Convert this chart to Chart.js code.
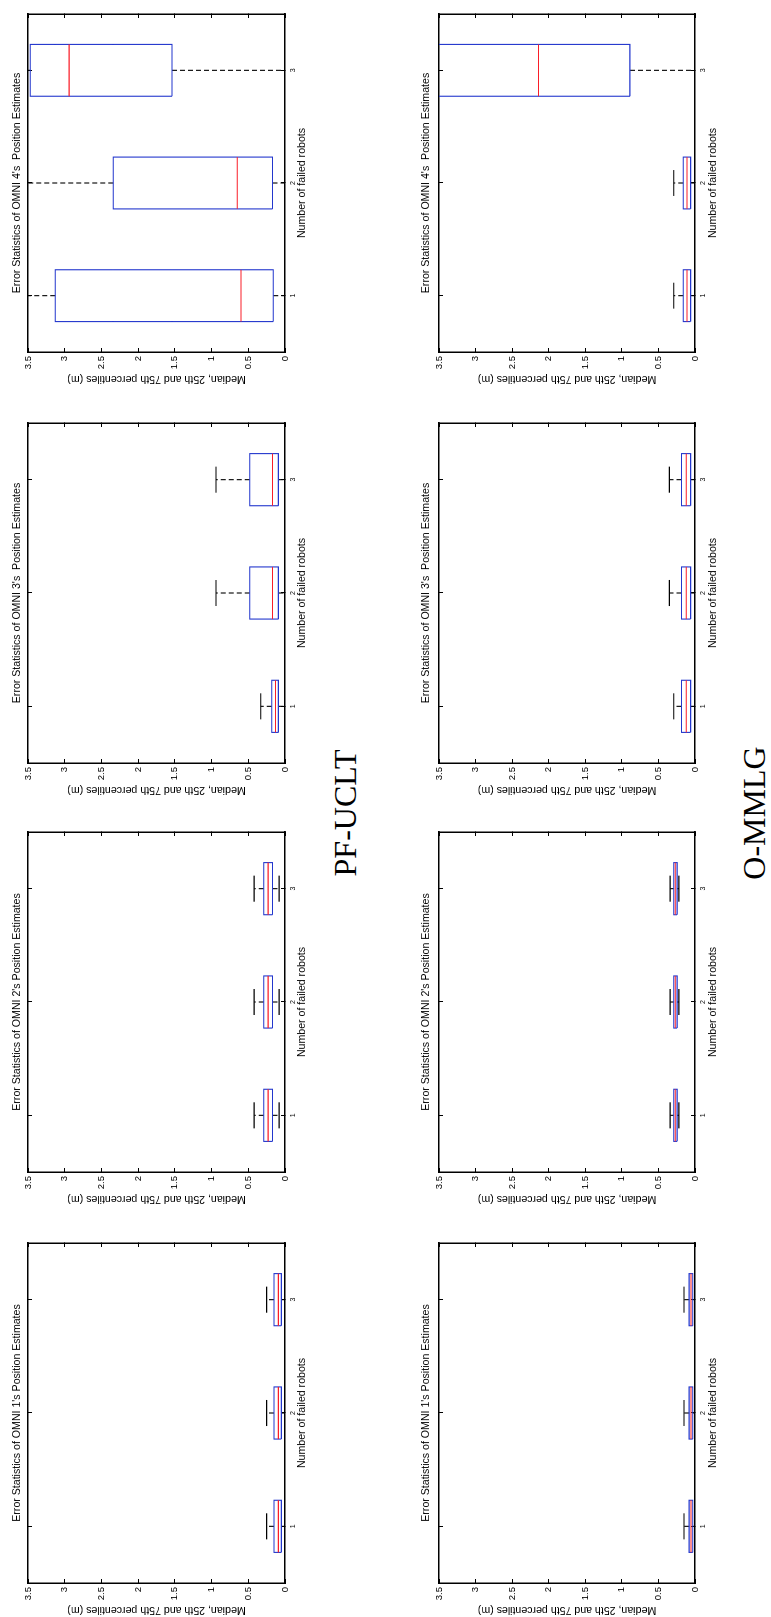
<!DOCTYPE html>
<html><head><meta charset="utf-8">
<script src="https://cdn.jsdelivr.net/npm/chart.js@4.4.0/dist/chart.umd.min.js"></script>
<style>
html,body{margin:0;padding:0;background:#fff;}
body{width:771px;height:1617px;position:relative;overflow:hidden;}
#land{position:absolute;left:0;top:0;width:1617px;height:771px;transform-origin:0 0;transform:translate(0px,1617px) rotate(-90deg);}
#land canvas{position:absolute;}
.lab{position:absolute;font-family:"Liberation Serif","Times New Roman",serif;font-size:32px;color:#000;white-space:nowrap;transform:translate(-50%,-50%);line-height:1;}
</style></head><body>
<div id="land">
<div class="lab" id="lab0" style="left:804px;top:345px">PF-UCLT</div>
<div class="lab" id="lab1" style="left:804px;top:754px">O-MMLG</div>
</div>
<script>
// ---------- data ----------
const categories = [1, 2, 3];                 // number of failed robots
const categoryLabels = ['1', '2', '3'];
const valueTicks = [0, 0.5, 1, 1.5, 2, 2.5, 3, 3.5];
const panelTitles = [
  "Error Statistics of OMNI 1's Position Estimates",
  "Error Statistics of OMNI 2's Position Estimates",
  "Error Statistics of OMNI 3's  Position Estimates",
  "Error Statistics of OMNI 4's  Position Estimates"
];
const methodNames = ['PF-UCLT', 'O-MMLG'];
const xTitle = 'Number of failed robots';
const yTitle = 'Median, 25th and 75th percentiles (m)';

// PF-UCLT : [OMNI1, OMNI2, OMNI3, OMNI4], each for 1,2,3 failed robots
const pfQ1  = [[0.05,0.05,0.05],[0.17,0.17,0.17],[0.09,0.09,0.09],[0.16,0.17,1.54]];
const pfMed = [[0.09,0.09,0.09],[0.23,0.23,0.23],[0.13,0.17,0.17],[0.60,0.65,2.94]];
const pfQ3  = [[0.15,0.15,0.15],[0.29,0.29,0.29],[0.18,0.48,0.48],[3.13,2.34,3.47]];
const pfLo  = [[0.0,0.0,0.0],[0.08,0.08,0.08],[0.0,0.0,0.0],[0.0,0.0,0.0]];
const pfHi  = [[0.25,0.25,0.25],[0.42,0.42,0.42],[0.33,0.94,0.94],[4.5,4.5,4.5]];

// O-MMLG
const omQ1  = [[0.03,0.03,0.03],[0.245,0.245,0.245],[0.06,0.06,0.06],[0.06,0.06,0.89]];
const omMed = [[0.055,0.055,0.055],[0.27,0.27,0.27],[0.12,0.12,0.12],[0.11,0.11,2.14]];
const omQ3  = [[0.08,0.08,0.08],[0.29,0.29,0.29],[0.185,0.185,0.185],[0.16,0.16,3.6]];
const omLo  = [[0.0,0.0,0.0],[0.22,0.22,0.22],[0.0,0.0,0.0],[0.0,0.0,0.0]];
const omHi  = [[0.15,0.15,0.15],[0.34,0.34,0.34],[0.29,0.35,0.35],[0.29,0.29,4.5]];

// ---------- layout (landscape frame, later rotated) ----------
const panelX = [34, 445, 854, 1265];
const panelW = [340, 340, 340, 338];
const rowY = [28, 439];
const rowH = [257, 256];
const rowTitlePad = [{top:10.35,bottom:4.95},{top:9.0,bottom:6.3}];
const rowXTitlePad = [6.9, 5.6];
const Y_AXIS_W = 34, TOP_H = 28, X_AXIS_H = 30, RIGHT_PAD = 3;

const FONT = '"Liberation Sans", Arial, Helvetica, sans-serif';
Chart.defaults.font.family = FONT;
Chart.defaults.color = '#000';

const BOX_HW = 0.23, CAP_HW = 0.115;
const BLUE = 'rgb(35,55,205)', RED = 'rgb(250,30,40)', BLACK = '#000';

function buildDatasets(q1, med, q3, lo, hi) {
  const whisk = [], caps = [], boxes = [], meds = [];
  categories.forEach((c, i) => {
    whisk.push({x:c,y:q3[i]},{x:c,y:hi[i]},{x:c,y:null},{x:c,y:q1[i]},{x:c,y:lo[i]},{x:c,y:null});
    caps.push({x:c-CAP_HW,y:hi[i]},{x:c+CAP_HW,y:hi[i]},{x:c,y:null},
              {x:c-CAP_HW,y:lo[i]},{x:c+CAP_HW,y:lo[i]},{x:c,y:null});
    boxes.push({x:c-BOX_HW,y:q1[i]},{x:c+BOX_HW,y:q1[i]},{x:c+BOX_HW,y:q3[i]},
               {x:c-BOX_HW,y:q3[i]},{x:c-BOX_HW,y:q1[i]},{x:c,y:null});
    meds.push({x:c-BOX_HW,y:med[i]},{x:c+BOX_HW,y:med[i]},{x:c,y:null});
  });
  const base = {showLine:true, fill:false, pointRadius:0, pointHoverRadius:0, tension:0, spanGaps:false, borderWidth:1.1};
  return [
    Object.assign({}, base, {label:'median', data:meds, borderColor:RED, order:0}),
    Object.assign({}, base, {label:'box', data:boxes, borderColor:BLUE, order:1}),
    Object.assign({}, base, {label:'caps', data:caps, borderColor:BLACK, order:2}),
    Object.assign({}, base, {label:'whiskers', data:whisk, borderColor:BLACK, borderDash:[5,3], order:3})
  ];
}

const gridOpts = {drawOnChartArea:false, drawTicks:true, tickLength:-4, color:'#000', lineWidth:1};
const borderOpts = {display:true, color:'#000', width:1.5};

function makePanel(row, col, q1, med, q3, lo, hi) {
  const cv = document.createElement('canvas');
  const W = panelW[col] + Y_AXIS_W + RIGHT_PAD;
  const H = rowH[row] + TOP_H + X_AXIS_H;
  cv.width = W; cv.height = H;
  cv.style.left = (panelX[col] - Y_AXIS_W) + 'px';
  cv.style.top = (rowY[row] - TOP_H) + 'px';
  cv.style.width = W + 'px'; cv.style.height = H + 'px';
  document.getElementById('land').appendChild(cv);
  const catTicks = s => { s.ticks = categories.map(v => ({value:v})); };
  const valTicks = s => { s.ticks = valueTicks.map(v => ({value:v})); };
  new Chart(cv, {
    type: 'scatter',
    data: {datasets: buildDatasets(q1, med, q3, lo, hi)},
    options: {
      responsive:false, animation:false, devicePixelRatio:1,
      events: [],
      layout: {padding:{left:0, right:RIGHT_PAD, top:0, bottom:0}},
      plugins: {
        legend:{display:false}, tooltip:{enabled:false},
        title:{display:true, text:panelTitles[col], fullSize:false, color:'#000',
               font:{family:FONT, size:10.6, weight:'normal', lineHeight:1.2},
               padding:rowTitlePad[row]}
      },
      scales: {
        x: {type:'linear', position:'bottom', min:0.5, max:3.5,
            afterBuildTicks: catTicks,
            afterFit: s => { s.height = X_AXIS_H; },
            ticks:{callback: v => categoryLabels[categories.indexOf(v)], font:{size:7}, color:'#000',
                   padding:7.8, maxRotation:0, autoSkip:false},
            grid: gridOpts, border: borderOpts,
            title:{display:true, text:xTitle, color:'#000', font:{size:10.6, lineHeight:1.2},
                   padding:{top:0, bottom:rowXTitlePad[row]}}},
        x2: {type:'linear', position:'top', min:0.5, max:3.5,
            afterBuildTicks: catTicks,
            afterFit: s => { s.height = 0; },
            ticks:{display:false}, grid: gridOpts, border: borderOpts},
        y: {type:'linear', position:'left', min:0, max:3.5,
            afterBuildTicks: valTicks,
            afterFit: s => { s.width = Y_AXIS_W; },
            ticks:{callback: v => String(v), font:{size:9.5}, color:'#000', padding:8},
            grid: gridOpts, border: borderOpts,
            title:{display:true, text:yTitle, color:'#000', font:{size:10.6, lineHeight:1.2},
                   padding:{top:0.6, bottom:0}}},
        y2: {type:'linear', position:'right', min:0, max:3.5,
            afterBuildTicks: valTicks,
            afterFit: s => { s.width = 0; },
            ticks:{display:false}, grid: gridOpts, border: borderOpts}
      }
    }
  });
}

for (let k = 0; k < 4; k++) {
  makePanel(0, k, pfQ1[k], pfMed[k], pfQ3[k], pfLo[k], pfHi[k]);
  makePanel(1, k, omQ1[k], omMed[k], omQ3[k], omLo[k], omHi[k]);
}
document.getElementById('lab0').textContent = methodNames[0];
document.getElementById('lab1').textContent = methodNames[1];
</script>
</body></html>
